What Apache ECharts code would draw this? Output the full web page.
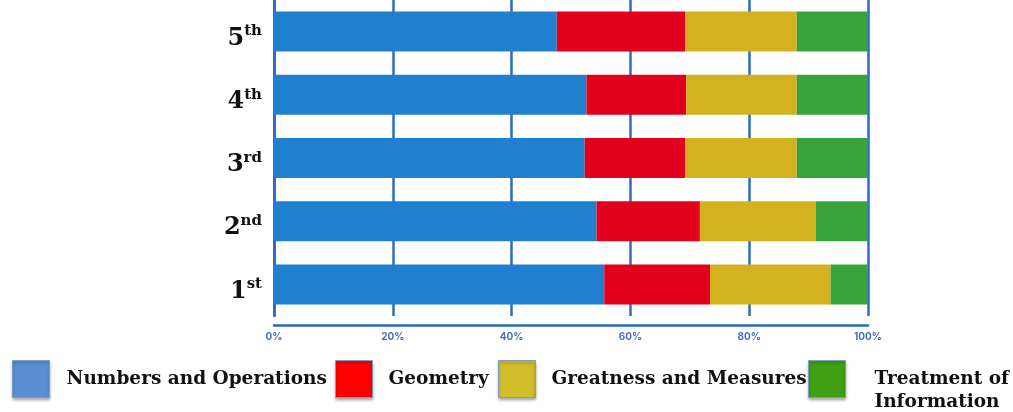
<!DOCTYPE html>
<html>
<head>
<meta charset="utf-8">
<script src="https://cdn.jsdelivr.net/npm/echarts@6/dist/echarts.min.js"></script>
<style>html,body{margin:0;padding:0;background:#fff}#c{width:1013px;height:412px}</style>
</head>
<body>
<div id="c"></div>
<script>
const categories = ['1st', '2nd', '3rd', '4th', '5th'];
const seriesNames = ['Numbers and Operations', 'Geometry', 'Greatness and Measures', 'Treatment of\nInformation'];
const numbersOps = [55.6, 54.3, 52.3, 52.6, 47.6];
const geometry = [17.8, 17.4, 16.9, 16.8, 21.6];
const greatness = [20.3, 19.5, 18.8, 18.6, 18.8];
const treatment = [6.3, 8.8, 12.0, 12.0, 12.0];
const xTicks = [0, 20, 40, 60, 80, 100];

const barColors = ['#1f80cf', '#e2001c', '#d4b11f', '#38a33a'];
const legendColors = ['#5b8fd5', '#ff0000', '#d2be2a', '#40a012'];
const values = [numbersOps, geometry, greatness, treatment];

const chart = echarts.init(document.getElementById('c'));
const serif = '"DejaVu Serif", "Liberation Serif", serif';
const legendLefts = [12, 335, 498, 808];
const legendTops = [360, 360, 360, 344.5];
const legendPads = [[0, 0, 0, 12], [0, 0, 0, 11], [0, 0, 0, 11], [0, 0, 0, 24]];

const legends = seriesNames.map((name, i) => ({
  left: legendLefts[i],
  top: legendTops[i],
  itemWidth: 37,
  itemHeight: 37,
  padding: 0,
  icon: 'rect',
  formatter: i === 3 ? (n => ' \n' + n) : '{name}',
  data: [{ name: name, itemStyle: { color: legendColors[i], borderColor: '#7d9cc8', borderWidth: 1, shadowBlur: 3, shadowColor: 'rgba(0,0,0,0.35)', shadowOffsetY: 2 } }],
  textStyle: { fontFamily: serif, fontWeight: 'bold', fontSize: 18.5, color: '#111', padding: legendPads[i], lineHeight: 23 },
  selectedMode: false
}));

chart.setOption({
  animation: false,
  grid: { left: 274, right: 145, top: 0, height: 316, containLabel: false },
  legend: legends,
  xAxis: {
    type: 'value', min: 0, max: 100, interval: 20, offset: 9,
    axisLine: { show: true, lineStyle: { color: '#2a66ba', width: 2.5 } },
    axisTick: { show: false },
    splitLine: { show: true, lineStyle: { color: '#2a6cc0', width: 2.5 } },
    axisLabel: { formatter: '{value}%', color: '#4a6cc0', fontFamily: 'Inter, "DejaVu Sans", sans-serif', fontWeight: 'bold', fontSize: 10, margin: 7 }
  },
  yAxis: {
    type: 'category', data: categories,
    axisLine: { show: true, lineStyle: { color: '#2a66ba', width: 2.5 } },
    axisTick: { show: false },
    axisLabel: {
      margin: 12,
      padding: [14, 0, 0, 0],
      formatter: v => '{n|' + v.charAt(0) + '}{s|' + v.slice(1) + '}',
      rich: {
        n: { fontFamily: serif, fontWeight: 'bold', fontSize: 24, color: '#111' },
        s: { fontFamily: serif, fontWeight: 'bold', fontSize: 15, color: '#111', verticalAlign: 'top', padding: [0, 0, 14, 0] }
      }
    }
  },
  series: seriesNames.map((name, i) => ({
    name: name, type: 'bar', stack: 'total', barWidth: 40,
    itemStyle: { color: barColors[i] },
    data: values[i]
  }))
});
</script>
</body>
</html>
